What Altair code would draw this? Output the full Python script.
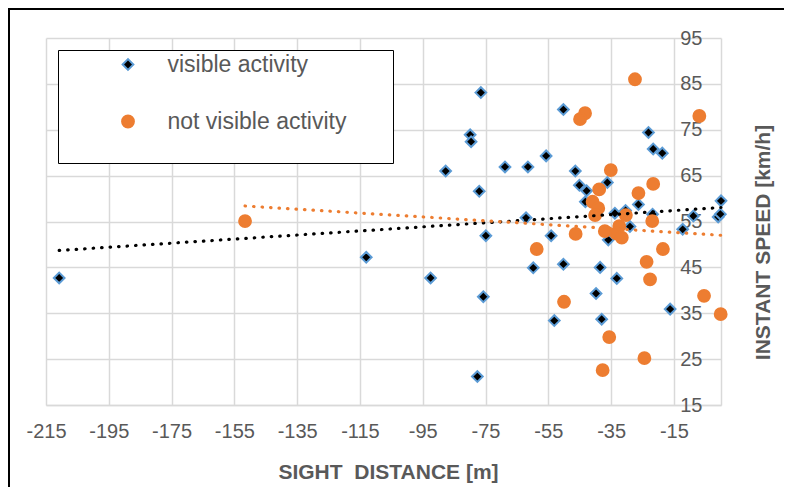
import altair as alt
import pandas as pd

# ---- data ----
vis_x = [-210.8, -113.0, -76.5, -79.9, -79.6, -87.7, -77.0, -68.8, -61.5, -55.7,
         -50.2, -46.4, -45.1, -42.8, -36.2, -43.2, -23.1, -21.6, -18.7, -26.3,
         0.0, -0.9, -0.2, -62.1, -74.9, -54.1, -33.8, -30.4, -29.0, -21.8,
         -12.2, -8.8, -35.9, -59.8, -50.2, -92.5, -75.7, -38.5, -33.2, -39.8,
         -53.1, -38.0, -16.2, -77.6]
vis_y = [42.7, 47.2, 83.1, 73.9, 72.4, 66.0, 61.6, 66.9, 66.9, 69.3,
         79.4, 66.0, 62.9, 61.7, 63.5, 59.3, 74.4, 70.8, 69.9, 58.7,
         59.5, 56.0, 56.6, 55.8, 51.9, 51.9, 56.8, 57.4, 53.9, 56.6,
         53.3, 56.2, 51.0, 44.9, 45.7, 42.7, 38.6, 45.0, 42.6, 39.3,
         33.4, 33.7, 35.9, 21.2]

nvis_x = [-151.6, -27.4, -43.3, -44.9, -6.9, -35.1, -38.8, -21.6, -26.3, -40.9,
          -39.1, -40.1, -30.3, -21.9, -46.3, -37.0, -32.4, -33.4, -31.6, -58.7,
          -18.5, -23.7, -22.6, -50.0, -5.4, -0.1, -35.6, -24.4, -37.7]
nvis_y = [55.1, 86.0, 78.6, 77.3, 78.0, 66.2, 62.0, 63.2, 61.2, 59.3,
          57.9, 56.4, 56.4, 55.1, 52.3, 52.9, 54.0, 52.4, 51.5, 49.0,
          49.0, 46.2, 42.4, 37.5, 38.8, 34.8, 29.8, 25.2, 22.6]

series_names = ["visible activity", "not visible activity"]
x_ticks = [-215, -195, -175, -155, -135, -115, -95, -75, -55, -35, -15]
y_ticks = [15, 25, 35, 45, 55, 65, 75, 85, 95]

df = pd.concat([
    pd.DataFrame({"x": vis_x, "y": vis_y, "series": series_names[0]}),
    pd.DataFrame({"x": nvis_x, "y": nvis_y, "series": series_names[1]}),
], ignore_index=True)

FONT = "Liberation Sans"
GREY = "#595959"
GRID = "#D9D9D9"
# invisible legend title, used only as a spacer to widen the legend box
LEG_TITLE = "_" * 59

xscale = alt.Scale(domain=[-215, 0], nice=False, zero=False)
yscale = alt.Scale(domain=[15, 95], nice=False, zero=False)

x_axis = alt.Axis(values=x_ticks, grid=True, gridColor=GRID, gridWidth=1.5,
                  domainColor=GRID, domainWidth=1.5, ticks=False, tickSize=0,
                  labelFontSize=20, labelColor=GREY, labelFont=FONT, labelPadding=16,
                  labelFlush=False, labelExpr="'' + datum.value",
                  title="SIGHT\u00a0 DISTANCE [m]", titleFont=FONT, titleFontSize=21,
                  titleFontWeight="bold", titleColor=GREY, titleX=342, titleY=67,
                  titleBaseline="middle", titleAlign="center")
y_axis = alt.Axis(values=y_ticks, orient="right", grid=True, gridColor=GRID, gridWidth=1.5,
                  domainColor=GRID, domainWidth=1.5, ticks=False, tickSize=0,
                  labelFontSize=20, labelColor=GREY, labelFont=FONT,
                  labelAlign="right", labelBaseline="middle", labelPadding=-19,
                  labelFlush=False, labelExpr="'' + datum.value",
                  title="INSTANT SPEED [km/h]", titleFont=FONT, titleFontSize=21,
                  titleFontWeight="bold", titleColor=GREY, titleAngle=270,
                  titleX=42, titleY=204, titleAlign="center", titleBaseline="middle")

frame = alt.Chart(alt.Data(values=[{"a": 1}])).mark_rect(
    fill="transparent", stroke="black", strokeWidth=2
).encode(x=alt.value(-37), x2=alt.value(900), y=alt.value(-29), y2=alt.value(700))

points = alt.Chart(df).mark_point(filled=True, opacity=1, strokeWidth=2).encode(
    x=alt.X("x:Q", scale=xscale, axis=x_axis),
    y=alt.Y("y:Q", scale=yscale, axis=y_axis),
    fill=alt.Fill("series:N", title=LEG_TITLE,
                  scale=alt.Scale(domain=series_names, range=["black", "#ED7D31"])),
    stroke=alt.Stroke("series:N", title=LEG_TITLE,
                      scale=alt.Scale(domain=series_names, range=["#5B9BD5", "#ED7D31"])),
    shape=alt.Shape("series:N", title=LEG_TITLE,
                    scale=alt.Scale(domain=series_names, range=["diamond", "circle"])),
    size=alt.Size("series:N", title=LEG_TITLE,
                  scale=alt.Scale(domain=series_names, range=[115, 140])),
)

trend_vis = alt.Chart(df).transform_filter(
    alt.datum.series == series_names[0]
).transform_regression("x", "y").mark_line(
    color="black", strokeWidth=3.2, strokeDash=[0.5, 8], strokeCap="round"
).encode(x="x:Q", y="y:Q")

trend_nvis = alt.Chart(df).transform_filter(
    alt.datum.series == series_names[1]
).transform_regression("x", "y").mark_line(
    color="#ED7D31", strokeWidth=3.2, strokeDash=[0.5, 8], strokeCap="round"
).encode(x="x:Q", y="y:Q")

chart = alt.layer(frame, points, trend_vis, trend_nvis).properties(
    width=675, height=367,
    padding={"left": 38, "top": 30, "right": 63, "bottom": 82},
    autosize=alt.AutoSizeParams(type="none"),
    background="white",
).configure_view(stroke="transparent").configure_legend(
    orient="none", legendX=12, legendY=12, padding=3,
    strokeColor="black", fillColor="white",
    labelFontSize=23, labelColor=GREY, labelFont=FONT, labelLimit=400,
    clipHeight=23, rowPadding=33, symbolOffset=55.5, labelOffset=28,
    symbolStrokeWidth=2,
    titleOrient="bottom", titleFontSize=10, titlePadding=16, titleLimit=500,
    titleAnchor="start", titleFont=FONT, titleOpacity=0,
)

chart.save("out.html", embed_options={"renderer": "svg", "actions": False})
